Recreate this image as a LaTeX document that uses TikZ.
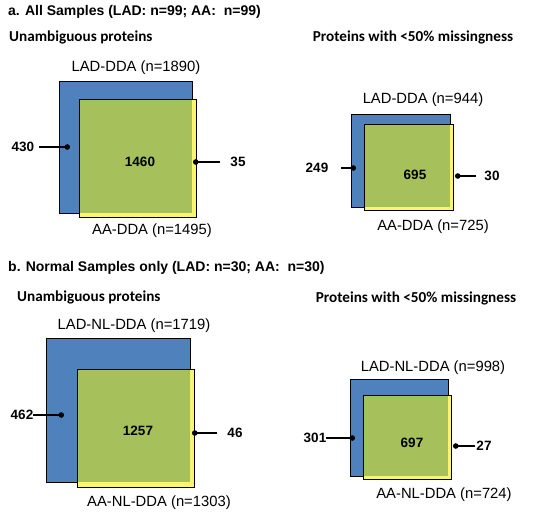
\documentclass[tikz,border=0pt]{standalone}
\usepackage{fontspec}
\setmainfont{Liberation Sans}
\newfontfamily\subfont{Carlito}
\usepackage{xcolor}
\usetikzlibrary{arrows.meta,positioning}

\definecolor{ladblue}{HTML}{4F81BD}
\definecolor{aayellow}{HTML}{FAF46E}
\definecolor{bothgreen}{HTML}{9BBB59}

\begin{document}
\begin{tikzpicture}[x=1pt, y=-1pt,
        title/.style={anchor=west, inner sep=0pt, font=\bfseries\fontsize{14}{16}\selectfont},
        subtitle/.style={inner sep=0pt, font=\subfont\bfseries\fontsize{15.2}{17}\selectfont},
        setlabel/.style={inner sep=0pt, font=\fontsize{14.8}{17}\selectfont},
        count/.style={inner sep=0pt, font=\bfseries\fontsize{13.5}{16}\selectfont},
        ladset/.style={draw=black, line width=1pt, fill=ladblue},
        aaset/.style={draw=black, line width=1pt, fill=aayellow},
        both/.style={fill=bothgreen, fill opacity=0.88},
        edge/.style={draw=black, line width=1pt},
        pointer/.style={line width=1.3pt, -{Circle[length=5.5pt]}}
    ]
        \useasboundingbox (0,0) rectangle (554,520);

        % Titles
        \node[title] (tta) at (8,12) {a. All Samples (LAD: n=99; AA:\ \ n=99)};
        \node[subtitle, anchor=west] (sua) at (9,37) {Unambiguous proteins};
        \node[subtitle] (sma) at (413,37) {Proteins with <50\% missingness};
        \node[title] (ttb) at (8,268) {b. Normal Samples only (LAD: n=30; AA:\ \ n=30)};
        \node[subtitle, anchor=west] (sub) at (17,297) {Unambiguous proteins};
        \node[subtitle] (smb) at (416,298) {Proteins with <50\% missingness};

        % a, unambiguous
        \filldraw[ladset] (59,81) rectangle (192,213);
        \filldraw[aaset] (79,99) rectangle (196,217);
        \fill[both] (79,99) rectangle (192,213);
        \draw[edge] (79,213) -- (79,99) -- (196,99);
        \node[setlabel] (lada1) at (136,68) {LAD-DDA (n=1890)};
        \node[setlabel] (aaa1) at (152,231) {AA-DDA (n=1495)};
        \node[count] (c1460) at (140,162) {1460};
        \node[count] (c430) at (23,147) {430};
        \node[count] (c35) at (238,162) {35};
        \coordinate (p430) at (70,147);
        \coordinate (p35) at (193,162);
        \draw[pointer, shorten <=5pt] (c430) -- (p430);
        \draw[pointer, shorten <=10pt] (c35) -- (p35);

        % a, <50% missingness
        \filldraw[ladset] (351,114) rectangle (450,207);
        \filldraw[aaset] (364,124) rectangle (453,210);
        \fill[both] (364,124) rectangle (450,207);
        \draw[edge] (364,207) -- (364,124) -- (453,124);
        \node[setlabel] (lada2) at (423,100) {LAD-DDA (n=944)};
        \node[setlabel] (aaa2) at (433,227) {AA-DDA (n=725)};
        \node[count] (c695) at (415,175) {695};
        \node[count] (c249) at (317,168) {249};
        \node[count] (c30) at (492,176) {30};
        \coordinate (p249) at (356,168);
        \coordinate (p30) at (455,176);
        \draw[pointer, shorten <=13pt] (c249) -- (p249);
        \draw[pointer, shorten <=8pt] (c30) -- (p30);

        % b, unambiguous
        \filldraw[ladset] (46,338) rectangle (190,482);
        \filldraw[aaset] (77,369) rectangle (194,487);
        \fill[both] (77,369) rectangle (190,482);
        \draw[edge] (77,482) -- (77,369) -- (194,369);
        \node[setlabel] (ladb1) at (134,326) {LAD-NL-DDA (n=1719)};
        \node[setlabel] (aab1) at (159,503) {AA-NL-DDA (n=1303)};
        \node[count] (c1257) at (138,431) {1257};
        \node[count] (c462) at (22,415) {462};
        \node[count] (c46) at (235,433) {46};
        \coordinate (p462) at (64,415);
        \coordinate (p46) at (192,433);
        \draw[pointer] (c462) -- (p462);
        \draw[pointer, shorten <=10pt] (c46) -- (p46);

        % b, <50% missingness
        \filldraw[ladset] (350,379) rectangle (448,476);
        \filldraw[aaset] (363,395) rectangle (451,479);
        \fill[both] (363,395) rectangle (448,476);
        \draw[edge] (363,476) -- (363,395) -- (451,395);
        \node[setlabel] (ladb2) at (433,368) {LAD-NL-DDA (n=998)};
        \node[setlabel] (aab2) at (444,495) {AA-NL-DDA (n=724)};
        \node[count] (c697) at (412,443) {697};
        \node[count] (c301) at (315,438) {301};
        \node[count] (c27) at (484,446) {27};
        \coordinate (p301) at (355,438);
        \coordinate (p27) at (453,446);
        \draw[pointer] (c301) -- (p301);
        \draw[pointer, shorten <=1pt] (c27) -- (p27);

    \end{tikzpicture}
\end{document}
